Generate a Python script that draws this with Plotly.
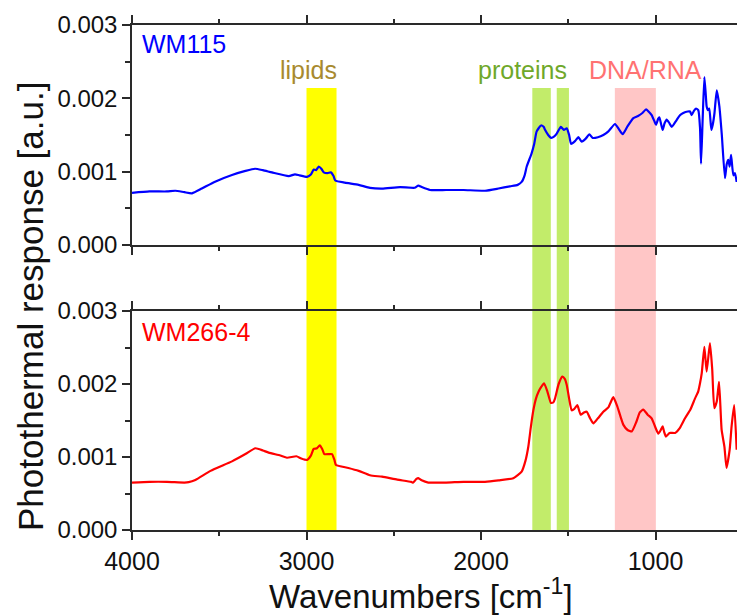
import plotly.graph_objects as go

# WM115 spectrum (wavenumber in cm^-1, photothermal response in a.u.)
wn_wm115 = [4000, 3900, 3800, 3752, 3700, 3656, 3600, 3524, 3427, 3350, 3295, 3250,
            3198, 3102, 3066, 3040, 2997, 2975, 2959, 2945, 2930, 2915, 2901, 2880,
            2860, 2845, 2835, 2780, 2701, 2636, 2567, 2464, 2380, 2359, 2340, 2292,
            2200, 2100, 1977, 1900, 1834, 1790, 1767, 1750, 1738, 1710, 1695, 1681,
            1656, 1640, 1633, 1615, 1599, 1580, 1566, 1542, 1525, 1509, 1495, 1484,
            1460, 1442, 1423, 1400, 1379, 1360, 1330, 1299, 1270, 1232, 1210, 1188,
            1160, 1127, 1100, 1075, 1054, 1040, 1022, 1005, 997, 985, 978, 968, 959,
            948, 936, 920, 907, 880, 860, 841, 815, 802, 793, 780, 768, 755, 745, 739,
            730, 720, 712, 707, 700, 692, 680, 672, 662, 649, 634, 620, 602, 592, 583,
            575, 567, 554, 545, 535]
resp_wm115 = [0.00071, 0.00073, 0.00073, 0.00074, 0.00072, 0.000705, 0.00077, 0.000864,
              0.000955, 0.00101, 0.00104, 0.00102, 0.00099, 0.00094, 0.000964, 0.00095,
              0.00093, 0.00096, 0.00103, 0.00102, 0.00107, 0.00104, 0.00099, 0.00098,
              0.00099, 0.00094, 0.00088, 0.00085, 0.00082, 0.00078, 0.00077, 0.00079,
              0.00078, 0.00081, 0.00079, 0.00075, 0.00075, 0.00075, 0.00074, 0.00077,
              0.00080, 0.00082, 0.00086, 0.00095, 0.00107, 0.00125, 0.00138, 0.00155,
              0.00163, 0.00161, 0.00157, 0.00150, 0.00146, 0.00148, 0.00152, 0.00161,
              0.00157, 0.00159, 0.00150, 0.00138, 0.00142, 0.00147, 0.00141, 0.00145,
              0.00151, 0.00146, 0.00147, 0.00150, 0.00155, 0.00165, 0.00158, 0.00151,
              0.00162, 0.00173, 0.00176, 0.00180, 0.00185, 0.00182, 0.00177, 0.00168,
              0.00164, 0.00172, 0.00174, 0.00165, 0.00157, 0.00166, 0.00171, 0.00166,
              0.00161, 0.00170, 0.00177, 0.00180, 0.00182, 0.00182, 0.00177, 0.00183,
              0.00186, 0.00184, 0.00160, 0.00111, 0.00170, 0.00229, 0.00205, 0.00189,
              0.00184, 0.00186, 0.00157, 0.00164, 0.00180, 0.00211, 0.00189, 0.00150,
              0.00091, 0.00110, 0.00116, 0.00107, 0.00123, 0.00095, 0.00098, 0.00086]

# WM266-4 spectrum
wn_wm266 = [4000, 3900, 3800, 3700, 3675, 3637, 3550, 3427, 3350, 3293, 3250, 3217,
            3150, 3112, 3058, 3030, 2997, 2975, 2959, 2940, 2924, 2910, 2898, 2870,
            2854, 2840, 2831, 2760, 2701, 2636, 2567, 2480, 2400, 2388, 2370, 2359,
            2340, 2302, 2200, 2100, 1977, 1900, 1815, 1767, 1745, 1729, 1715, 1700,
            1685, 1671, 1655, 1639, 1620, 1599, 1585, 1576, 1555, 1534, 1520, 1509,
            1495, 1480, 1465, 1448, 1429, 1410, 1394, 1375, 1356, 1330, 1299, 1270,
            1242, 1220, 1200, 1184, 1160, 1136, 1110, 1090, 1070, 1045, 1022, 1000,
            984, 970, 959, 950, 940, 920, 888, 860, 831, 800, 774, 755, 745, 735, 720,
            707, 688, 675, 663, 649, 636, 621, 605, 593, 575, 564, 549, 535]
resp_wm266 = [0.00065, 0.00066, 0.00066, 0.00065, 0.000655, 0.000685, 0.00081, 0.00094,
              0.00104, 0.00112, 0.00109, 0.00106, 0.00102, 0.00099, 0.00101, 0.00098,
              0.00096, 0.00102, 0.00111, 0.00112, 0.00116, 0.00111, 0.00104, 0.00104,
              0.00104, 0.00096, 0.00089, 0.00085, 0.00081, 0.00075, 0.00073, 0.00069,
              0.00066, 0.00065, 0.00070, 0.00071, 0.00068, 0.00065, 0.00065, 0.00066,
              0.00066, 0.00068, 0.00071, 0.00080, 0.00095, 0.00114, 0.00140, 0.00164,
              0.00180, 0.00189, 0.00196, 0.00201, 0.00190, 0.00174, 0.00175, 0.00180,
              0.00200, 0.00210, 0.00207, 0.00199, 0.00180, 0.00164, 0.00166, 0.00171,
              0.00158, 0.00161, 0.00162, 0.00153, 0.00146, 0.00153, 0.00162, 0.00168,
              0.00182, 0.00170, 0.00155, 0.00144, 0.00137, 0.00135, 0.00148, 0.00161,
              0.00165, 0.00158, 0.00153, 0.00140, 0.00132, 0.00137, 0.00142, 0.00134,
              0.00128, 0.00133, 0.00133, 0.00140, 0.00153, 0.00165, 0.00180, 0.00190,
              0.00201, 0.00215, 0.00251, 0.00217, 0.00256, 0.00220, 0.00167, 0.00176,
              0.00203, 0.00137, 0.00114, 0.00085, 0.00110, 0.00142, 0.00171, 0.00110]

# Assignment bands: label, label centre, (start, end) ranges, fill, text colour
band_labels = ["lipids", "proteins", "DNA/RNA"]
band_label_pos = [2990, 1763, 1056]
band_ranges = [[(3000, 2828)], [(1706, 1600), (1566, 1496)], [(1233, 998)]]
band_fill = ["#FFFF00", "#C2EC6A", "#FFC6C6"]
band_text = ["#A88A2E", "#6FA82A", "#FF7272"]

sample_names = ["WM115", "WM266-4"]
sample_colors = ["#0000FF", "#FF0000"]

y_tickvals = [0.0, 0.001, 0.002, 0.003]
y_ticktext = ["0.000", "0.001", "0.002", "0.003"]
x_tickvals = [4000, 3000, 2000, 1000]

FONT = "Liberation Sans, Arial, sans-serif"
AX = "#2a2a2a"

fig = go.Figure()
fig.add_trace(go.Scatter(x=wn_wm115, y=resp_wm115, mode="lines",
                         line=dict(color=sample_colors[0], width=2.2,
                                   shape="spline", smoothing=0.5),
                         xaxis="x", yaxis="y", showlegend=False))
fig.add_trace(go.Scatter(x=wn_wm266, y=resp_wm266, mode="lines",
                         line=dict(color=sample_colors[1], width=2.2,
                                   shape="spline", smoothing=0.5),
                         xaxis="x2", yaxis="y2", showlegend=False))

L, R, T, B = 132, 0, 25, 86
H = 616 - T - B
top_dom = [(530 - 245) / H, 1.0]
bot_dom = [0.0, (530 - 311) / H]

xcommon = dict(range=[4000, 533], showline=True, linecolor=AX, linewidth=1.5,
               mirror="ticks", ticks="outside", ticklen=8, tickwidth=1.5,
               tickcolor=AX, tickvals=x_tickvals, showgrid=False, zeroline=False,
               minor=dict(tickvals=[3500, 2500, 1500, 500], ticks="outside",
                          ticklen=4, tickwidth=1.5, tickcolor=AX),
               tickfont=dict(family=FONT, size=25, color="#111"))
ycommon = dict(range=[0, 0.003], showline=True, linecolor=AX, linewidth=1.5,
               ticks="outside", ticklen=8, tickwidth=1.5, tickcolor=AX,
               tickvals=y_tickvals, ticktext=y_ticktext, showgrid=False,
               zeroline=False,
               minor=dict(tickvals=[0.0005, 0.0015, 0.0025], ticks="outside",
                          ticklen=5, tickwidth=1.5, tickcolor=AX),
               tickfont=dict(family=FONT, size=24, color="#111"))

fig.update_layout(
    width=737, height=616,
    margin=dict(l=L, r=R, t=T, b=B),
    paper_bgcolor="white", plot_bgcolor="rgba(0,0,0,0)",
    xaxis=dict(xcommon, domain=[0, 1], anchor="y", showticklabels=False),
    yaxis=dict(ycommon, domain=top_dom, anchor="x"),
    xaxis2=dict(xcommon, domain=[0, 1], anchor="y2", showticklabels=True),
    yaxis2=dict(ycommon, domain=bot_dom, anchor="x2"),
)

band_top = (530 - 88) / H
for ranges, fill in zip(band_ranges, band_fill):
    for x0, x1 in ranges:
        fig.add_shape(type="rect", xref="x", yref="paper", x0=x0, x1=x1,
                      y0=0, y1=band_top, fillcolor=fill, line_width=0,
                      layer="below")

label_y = (530 - 70) / H
for name, pos, col in zip(band_labels, band_label_pos, band_text):
    fig.add_annotation(x=pos, y=label_y, xref="x", yref="paper", text=name,
                       showarrow=False, xanchor="center", yanchor="middle",
                       font=dict(family=FONT, size=25, color=col))

for name, col, ypx in zip(sample_names, sample_colors, [44, 332]):
    fig.add_annotation(x=(140 - L) / 605, y=(530 - ypx) / H, xref="paper",
                       yref="paper", text=name, showarrow=False,
                       xanchor="left", yanchor="middle",
                       font=dict(family=FONT, size=25, color=col))

fig.add_annotation(x=(30 - L) / 605, y=(530 - 307) / H, xref="paper", yref="paper",
                   text="Photothermal response [a.u.]", textangle=-90,
                   showarrow=False, xanchor="center", yanchor="middle",
                   font=dict(family=FONT, size=35, color="#111"))
fig.add_annotation(x=(421 - L) / 605, y=(530 - 594) / H, xref="paper", yref="paper",
                   text="Wavenumbers [cm<sup>-1</sup>]", showarrow=False,
                   xanchor="center", yanchor="middle",
                   font=dict(family=FONT, size=33, color="#111"))

fig.write_html("out.html")
